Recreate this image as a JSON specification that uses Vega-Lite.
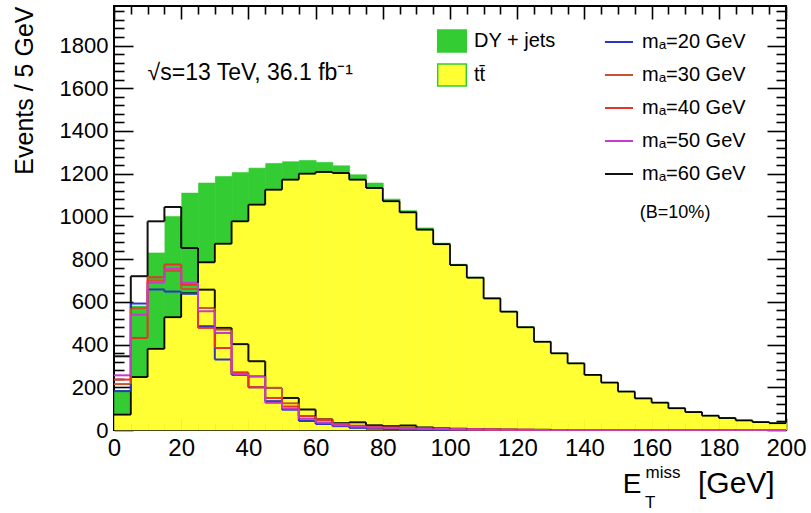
{
  "$schema": "https://vega.github.io/schema/vega-lite/v6.json",
  "autosize": {"type": "none"},
  "padding": {"left": 114, "top": 6, "right": 25, "bottom": 83},
  "width": 672,
  "height": 424,
  "background": "white",
  "config": {
    "font": "Liberation Sans",
    "view": {"stroke": "black", "strokeWidth": 2},
    "axis": {"labelColor": "black", "titleColor": "black", "tickColor": "black", "tickWidth": 1.6, "grid": false, "domain": false, "labelFont": "Liberation Sans", "titleFont": "Liberation Sans", "titleFontWeight": "normal", "labelFlush": false, "labelOverlap": false, "labelBound": false, "zindex": 1},
    "legend": {"labelFont": "Liberation Sans", "labelColor": "black", "labelLimit": 400}
  },
  "datasets": {
    "h": [
      {"lo": 0, "hi": 5, "tt": 72, "dy": 113, "m20": 182, "m30": 215, "m40": 236, "m50": 256, "m60": 345},
      {"lo": 5, "hi": 10, "tt": 248, "dy": 332, "m20": 592, "m30": 570, "m40": 431, "m50": 540, "m60": 720},
      {"lo": 10, "hi": 15, "tt": 380, "dy": 449, "m20": 658, "m30": 700, "m40": 715, "m50": 690, "m60": 977},
      {"lo": 15, "hi": 20, "tt": 528, "dy": 472, "m20": 648, "m30": 745, "m40": 775, "m50": 755, "m60": 1044},
      {"lo": 20, "hi": 25, "tt": 640, "dy": 469, "m20": 638, "m30": 660, "m40": 680, "m50": 689, "m60": 852},
      {"lo": 25, "hi": 30, "tt": 785, "dy": 371, "m20": 486, "m30": 571, "m40": 478, "m50": 556, "m60": 657},
      {"lo": 30, "hi": 35, "tt": 872, "dy": 315, "m20": 330, "m30": 470, "m40": 384, "m50": 454, "m60": 478},
      {"lo": 35, "hi": 40, "tt": 977, "dy": 228, "m20": 258, "m30": 262, "m40": 270, "m50": 262, "m60": 402},
      {"lo": 40, "hi": 45, "tt": 1055, "dy": 171, "m20": 200, "m30": 250, "m40": 200, "m50": 252, "m60": 322},
      {"lo": 45, "hi": 50, "tt": 1125, "dy": 123, "m20": 135, "m30": 197, "m40": 150, "m50": 127, "m60": 197},
      {"lo": 50, "hi": 55, "tt": 1172, "dy": 84, "m20": 95, "m30": 125, "m40": 110, "m50": 100, "m60": 150},
      {"lo": 55, "hi": 60, "tt": 1200, "dy": 62, "m20": 42, "m30": 65, "m40": 65, "m50": 52, "m60": 96},
      {"lo": 60, "hi": 65, "tt": 1208, "dy": 45, "m20": 28, "m30": 45, "m40": 49, "m50": 34, "m60": 50},
      {"lo": 65, "hi": 70, "tt": 1203, "dy": 34, "m20": 18, "m30": 25, "m40": 28, "m50": 22, "m60": 32},
      {"lo": 70, "hi": 75, "tt": 1172, "dy": 23, "m20": 10, "m30": 18, "m40": 20, "m50": 16, "m60": 36},
      {"lo": 75, "hi": 80, "tt": 1133, "dy": 23, "m20": 6, "m30": 12, "m40": 15, "m50": 12, "m60": 22},
      {"lo": 80, "hi": 85, "tt": 1071, "dy": 10, "m20": 4, "m30": 9, "m40": 12, "m50": 10, "m60": 18},
      {"lo": 85, "hi": 90, "tt": 1019, "dy": 8, "m20": 3, "m30": 7, "m40": 10, "m50": 8, "m60": 21},
      {"lo": 90, "hi": 95, "tt": 938, "dy": 8, "m20": 2, "m30": 5, "m40": 8, "m50": 6, "m60": 12},
      {"lo": 95, "hi": 100, "tt": 870, "dy": 5, "m20": 1, "m30": 4, "m40": 6, "m50": 5, "m60": 8},
      {"lo": 100, "hi": 105, "tt": 772, "dy": 4, "m20": 1, "m30": 3, "m40": 4, "m50": 4, "m60": 6},
      {"lo": 105, "hi": 110, "tt": 713, "dy": 3, "m20": 1, "m30": 2, "m40": 3, "m50": 3, "m60": 4},
      {"lo": 110, "hi": 115, "tt": 616, "dy": 3, "m20": 0, "m30": 1, "m40": 2, "m50": 2, "m60": 3},
      {"lo": 115, "hi": 120, "tt": 554, "dy": 2, "m20": 0, "m30": 1, "m40": 1, "m50": 1, "m60": 2},
      {"lo": 120, "hi": 125, "tt": 481, "dy": 2, "m20": 0, "m30": 0, "m40": 1, "m50": 1, "m60": 1},
      {"lo": 125, "hi": 130, "tt": 413, "dy": 2, "m20": 0, "m30": 0, "m40": 0, "m50": 0, "m60": 1},
      {"lo": 130, "hi": 135, "tt": 359, "dy": 1, "m20": 0, "m30": 0, "m40": 0, "m50": 0, "m60": 0},
      {"lo": 135, "hi": 140, "tt": 312, "dy": 1, "m20": 0, "m30": 0, "m40": 0, "m50": 0, "m60": 0},
      {"lo": 140, "hi": 145, "tt": 258, "dy": 1, "m20": 0, "m30": 0, "m40": 0, "m50": 0, "m60": 0},
      {"lo": 145, "hi": 150, "tt": 222, "dy": 1, "m20": 0, "m30": 0, "m40": 0, "m50": 0, "m60": 0},
      {"lo": 150, "hi": 155, "tt": 180, "dy": 1, "m20": 0, "m30": 0, "m40": 0, "m50": 0, "m60": 0},
      {"lo": 155, "hi": 160, "tt": 148, "dy": 1, "m20": 0, "m30": 0, "m40": 0, "m50": 0, "m60": 0},
      {"lo": 160, "hi": 165, "tt": 128, "dy": 1, "m20": 0, "m30": 0, "m40": 0, "m50": 0, "m60": 0},
      {"lo": 165, "hi": 170, "tt": 102, "dy": 1, "m20": 0, "m30": 0, "m40": 0, "m50": 0, "m60": 0},
      {"lo": 170, "hi": 175, "tt": 84, "dy": 1, "m20": 0, "m30": 0, "m40": 0, "m50": 0, "m60": 0},
      {"lo": 175, "hi": 180, "tt": 67, "dy": 1, "m20": 0, "m30": 0, "m40": 0, "m50": 0, "m60": 0},
      {"lo": 180, "hi": 185, "tt": 56, "dy": 1, "m20": 0, "m30": 0, "m40": 0, "m50": 0, "m60": 0},
      {"lo": 185, "hi": 190, "tt": 45, "dy": 1, "m20": 0, "m30": 0, "m40": 0, "m50": 0, "m60": 0},
      {"lo": 190, "hi": 195, "tt": 37, "dy": 1, "m20": 0, "m30": 0, "m40": 0, "m50": 0, "m60": 0},
      {"lo": 195, "hi": 200, "tt": 32, "dy": 1, "m20": 0, "m30": 0, "m40": 0, "m50": 0, "m60": 0}
    ]
  },
  "resolve": {"scale": {"x": "independent", "y": "independent"}, "axis": {"x": "independent", "y": "independent"}},
  "layer": [
    {
      "data": {"name": "h"},
      "transform": [{"fold": ["tt", "dy"], "as": ["proc", "events"]}],
      "mark": {"type": "bar", "strokeWidth": 0.6, "binSpacing": 0},
      "encoding": {
        "x": {"field": "lo", "type": "quantitative", "bin": "binned", "scale": {"domain": [0, 200], "nice": false, "zero": false},
              "axis": {"orient": "bottom", "values": [0, 20, 40, 60, 80, 100, 120, 140, 160, 180, 200], "format": "d", "ticks": false, "labelFontSize": 24, "labelPadding": 6, "title": null}},
        "x2": {"field": "hi"},
        "y": {"field": "events", "type": "quantitative", "stack": "zero", "scale": {"domain": [0, 1985], "nice": false, "zero": false},
              "axis": {"orient": "left", "values": [0, 200, 400, 600, 800, 1000, 1200, 1400, 1600, 1800], "format": "d", "ticks": false, "labelFontSize": 22, "labelPadding": 6, "title": "Events / 5 GeV", "titleFontSize": 25, "titleAnchor": "end", "titlePadding": 22}},
        "order": {"field": "proc", "sort": "descending"},
        "fill": {"field": "proc", "type": "nominal", "scale": {"domain": ["dy", "tt"], "range": ["#33cc33", "#ffff33"]},
                 "legend": {"orient": "none", "legendX": 326, "legendY": 23, "title": null, "direction": "vertical",
                            "labelExpr": "datum.value === 'dy' ? 'DY + jets' : 'tt\u0304'",
                            "symbolType": "M-1.3,-1H1.3V1H-1.3Z", "symbolSize": 484, "labelFontSize": 20, "rowPadding": 6, "labelOffset": 10, "symbolOpacity": 1,
                            "encode": {"symbols": {"update": {"stroke": {"signal": "datum.value === 'tt' ? 'black' : '#33cc33'"}, "strokeWidth": {"value": 1.5}}}}}},
        "stroke": {"condition": {"test": "datum.proc === 'tt'", "value": "#ffff33"}, "value": "#33cc33"}
      }
    },
    {
      "data": {"name": "h"},
      "mark": {"type": "rule", "color": "black", "strokeWidth": 1.8},
      "encoding": {
        "x": {"field": "lo", "type": "quantitative", "scale": {"domain": [0, 200], "nice": false, "zero": false},
              "axis": {"orient": "bottom", "values": [0, 20, 40, 60, 80, 100, 120, 140, 160, 180, 200], "labels": false, "ticks": true, "tickSize": 12, "offset": -12, "title": null}},
        "x2": {"field": "hi"},
        "y": {"field": "tt", "type": "quantitative", "scale": {"domain": [0, 1985], "nice": false, "zero": false},
              "axis": {"orient": "left", "values": [0, 200, 400, 600, 800, 1000, 1200, 1400, 1600, 1800], "labels": false, "ticks": true, "tickSize": 19, "offset": -19, "title": null}}
      }
    },
    {
      "data": {"name": "h"},
      "transform": [{"window": [{"op": "lag", "field": "tt", "as": "prevtt"}], "sort": [{"field": "lo", "order": "ascending"}]}],
      "mark": {"type": "rule", "color": "black", "strokeWidth": 1.8},
      "encoding": {
        "x": {"field": "lo", "type": "quantitative", "scale": {"domain": [0, 200], "nice": false, "zero": false},
              "axis": {"orient": "bottom", "values": [5, 10, 15, 25, 30, 35, 45, 50, 55, 65, 70, 75, 85, 90, 95, 105, 110, 115, 125, 130, 135, 145, 150, 155, 165, 170, 175, 185, 190, 195], "labels": false, "ticks": true, "tickSize": 7, "offset": -7, "title": null}},
        "y": {"field": "prevtt", "type": "quantitative", "scale": {"domain": [0, 1985], "nice": false, "zero": false},
              "axis": {"orient": "left", "values": [40, 80, 120, 160, 240, 280, 320, 360, 440, 480, 520, 560, 640, 680, 720, 760, 840, 880, 920, 960, 1040, 1080, 1120, 1160, 1240, 1280, 1320, 1360, 1440, 1480, 1520, 1560, 1640, 1680, 1720, 1760, 1840, 1880, 1920, 1960], "labels": false, "ticks": true, "tickSize": 10, "offset": -10, "title": null}},
        "y2": {"field": "tt"}
      }
    },
    {
      "data": {"name": "h"},
      "transform": [{"fold": ["m60", "m20", "m30", "m40", "m50"], "as": ["mass", "events"]}],
      "mark": {"type": "rule", "strokeWidth": 2},
      "encoding": {
        "x": {"field": "lo", "type": "quantitative", "scale": {"domain": [0, 200], "nice": false, "zero": false},
              "axis": {"orient": "top", "values": [0, 20, 40, 60, 80, 100, 120, 140, 160, 180, 200], "labels": false, "ticks": true, "tickSize": 13, "offset": -13, "title": null}},
        "x2": {"field": "hi"},
        "y": {"field": "events", "type": "quantitative", "scale": {"domain": [0, 1985], "nice": false, "zero": false},
              "axis": {"orient": "right", "values": [0, 200, 400, 600, 800, 1000, 1200, 1400, 1600, 1800], "labels": false, "ticks": true, "tickSize": 19, "offset": -19, "title": null}},
        "stroke": {"field": "mass", "type": "nominal", "scale": {"domain": ["m20", "m30", "m40", "m50", "m60"], "range": ["#2a36c4", "#c4552f", "#e8322a", "#c43cc8", "#111111"]},
                   "legend": {"orient": "none", "legendX": 490, "legendY": 21, "title": null, "direction": "vertical",
                              "labelExpr": "'m\u2090=' + substring(datum.value, 1) + ' GeV'",
                              "symbolType": "stroke", "symbolSize": 784, "symbolStrokeWidth": 2, "labelFontSize": 20, "rowPadding": 8, "labelOffset": 8}}
      }
    },
    {
      "data": {"name": "h"},
      "transform": [
        {"fold": ["m60", "m20", "m30", "m40", "m50"], "as": ["mass", "events"]},
        {"window": [{"op": "lag", "field": "events", "as": "prev"}], "groupby": ["mass"], "sort": [{"field": "lo", "order": "ascending"}]}
      ],
      "mark": {"type": "rule", "strokeWidth": 2},
      "encoding": {
        "x": {"field": "lo", "type": "quantitative", "scale": {"domain": [0, 200], "nice": false, "zero": false},
              "axis": {"orient": "top", "values": [5, 10, 15, 25, 30, 35, 45, 50, 55, 65, 70, 75, 85, 90, 95, 105, 110, 115, 125, 130, 135, 145, 150, 155, 165, 170, 175, 185, 190, 195], "labels": false, "ticks": true, "tickSize": 8, "offset": -8, "title": null}},
        "y": {"field": "prev", "type": "quantitative", "scale": {"domain": [0, 1985], "nice": false, "zero": false},
              "axis": {"orient": "right", "values": [40, 80, 120, 160, 240, 280, 320, 360, 440, 480, 520, 560, 640, 680, 720, 760, 840, 880, 920, 960, 1040, 1080, 1120, 1160, 1240, 1280, 1320, 1360, 1440, 1480, 1520, 1560, 1640, 1680, 1720, 1760, 1840, 1880, 1920, 1960], "labels": false, "ticks": true, "tickSize": 10, "offset": -10, "title": null}},
        "y2": {"field": "events"},
        "stroke": {"field": "mass", "type": "nominal", "legend": null}
      }
    },
    {
      "data": {"values": [{}]},
      "mark": {"type": "text", "text": "\u221as=13 TeV, 36.1 fb\u207b\u00b9", "align": "left", "baseline": "middle", "fontSize": 23, "font": "Liberation Sans"},
      "encoding": {"x": {"datum": 10, "type": "quantitative", "scale": {"domain": [0, 200], "nice": false, "zero": false}, "axis": null},
                   "y": {"datum": 1672, "type": "quantitative", "scale": {"domain": [0, 1985], "nice": false, "zero": false}, "axis": null}}
    },
    {
      "data": {"values": [{}]},
      "mark": {"type": "text", "text": "(B=10%)", "align": "left", "baseline": "middle", "fontSize": 18, "font": "Liberation Sans"},
      "encoding": {"x": {"datum": 156.5, "type": "quantitative", "scale": {"domain": [0, 200], "nice": false, "zero": false}, "axis": null},
                   "y": {"datum": 1017, "type": "quantitative", "scale": {"domain": [0, 1985], "nice": false, "zero": false}, "axis": null}}
    },
    {
      "data": {"values": [{}]},
      "mark": {"type": "text", "text": "E", "align": "left", "baseline": "alphabetic", "fontSize": 28, "font": "Liberation Sans"},
      "encoding": {"x": {"datum": 151.4, "type": "quantitative", "scale": {"domain": [0, 200], "nice": false, "zero": false}, "axis": null},
                   "y": {"datum": -296, "type": "quantitative", "scale": {"domain": [0, 1985], "nice": false, "zero": false}, "axis": null}}
    },
    {
      "data": {"values": [{}]},
      "mark": {"type": "text", "text": "T", "align": "left", "baseline": "alphabetic", "fontSize": 17, "font": "Liberation Sans"},
      "encoding": {"x": {"datum": 158.0, "type": "quantitative", "scale": {"domain": [0, 200], "nice": false, "zero": false}, "axis": null},
                   "y": {"datum": -365, "type": "quantitative", "scale": {"domain": [0, 1985], "nice": false, "zero": false}, "axis": null}}
    },
    {
      "data": {"values": [{}]},
      "mark": {"type": "text", "text": "miss", "align": "left", "baseline": "alphabetic", "fontSize": 17, "font": "Liberation Sans"},
      "encoding": {"x": {"datum": 158.2, "type": "quantitative", "scale": {"domain": [0, 200], "nice": false, "zero": false}, "axis": null},
                   "y": {"datum": -227, "type": "quantitative", "scale": {"domain": [0, 1985], "nice": false, "zero": false}, "axis": null}}
    },
    {
      "data": {"values": [{}]},
      "mark": {"type": "text", "text": "[GeV]", "align": "left", "baseline": "alphabetic", "fontSize": 30, "font": "Liberation Sans"},
      "encoding": {"x": {"datum": 173.8, "type": "quantitative", "scale": {"domain": [0, 200], "nice": false, "zero": false}, "axis": null},
                   "y": {"datum": -296, "type": "quantitative", "scale": {"domain": [0, 1985], "nice": false, "zero": false}, "axis": null}}
    }
  ]
}
